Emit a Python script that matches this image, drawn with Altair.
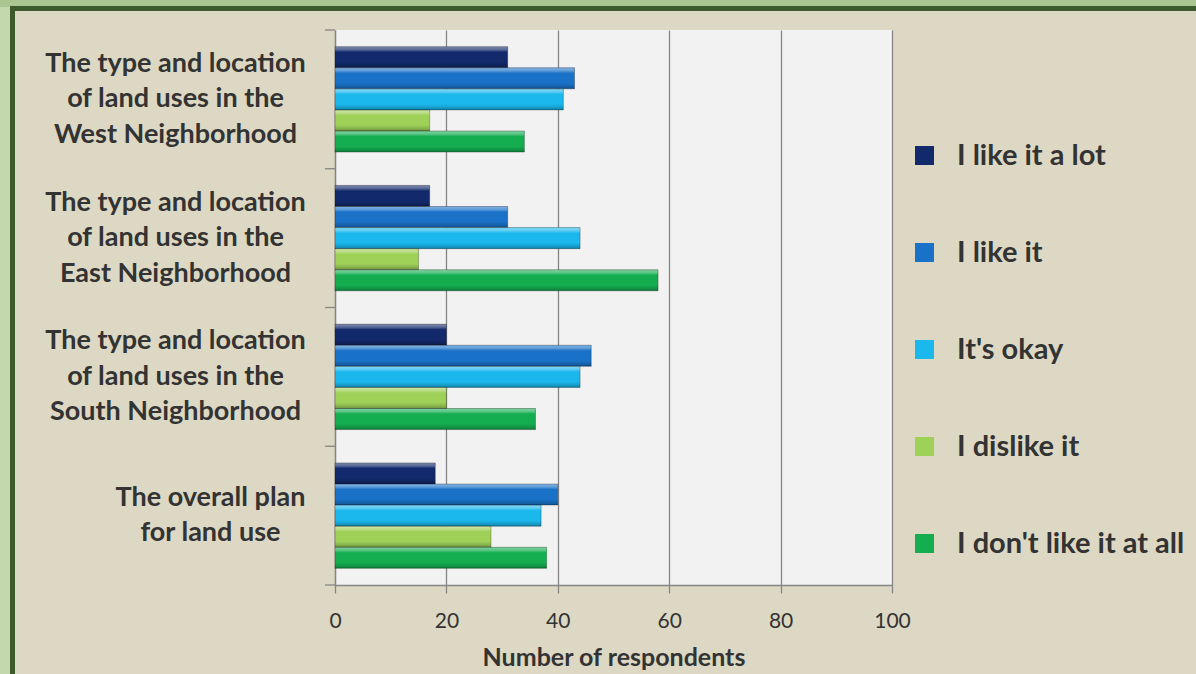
import altair as alt
import pandas as pd

# Survey questions (lines split on "|") and response options
categories = [
    "The type and location|of land uses in the|West Neighborhood",
    "The type and location|of land uses in the|East Neighborhood",
    "The type and location|of land uses in the|South Neighborhood",
    "The overall plan|for land use",
]
series = ["I like it a lot", "I like it", "It's okay", "I dislike it", "I don't like it at all"]

like_a_lot = [31, 17, 20, 18]
like_it = [43, 31, 46, 40]
its_okay = [41, 44, 44, 37]
dislike_it = [17, 15, 20, 28]
dont_like_at_all = [34, 58, 36, 38]

x_ticks = [0, 20, 40, 60, 80, 100]
colors = ["#12296b", "#1a72c8", "#1bb8ee", "#9fd058", "#14ae50"]

values_by_series = [like_a_lot, like_it, its_okay, dislike_it, dont_like_at_all]
rows = []
for s, vals in zip(series, values_by_series):
    for c, v in zip(categories, vals):
        rows.append({"category": c, "series": s, "value": v})
df = pd.DataFrame(rows)
cat_df = pd.DataFrame({"category": categories})
frame_df = pd.DataFrame({"k": [0]})

FONT = "Lato"
TEXT = "#333333"
GRAY = "#858585"

PLOT_W, PLOT_H = 557, 555
PAD_INNER, PAD_OUTER = 0.24, 0.12
step = PLOT_H / (len(categories) - PAD_INNER + 2 * PAD_OUTER)
half_gap = PAD_OUTER * step  # distance from a group's edge to the separator

LINE_H = 35.5
two_line = f"datum.value === '{categories[3]}'"

y_scale = alt.Scale(paddingInner=PAD_INNER, paddingOuter=PAD_OUTER)

y_enc = alt.Y(
    "category:N",
    sort=categories,
    scale=y_scale,
    axis=alt.Axis(
        title=None,
        ticks=False,
        tickSize=0,
        domain=True,
        domainColor=GRAY,
        domainWidth=1.3,
        labelExpr="split(datum.label, '|')",
        labelAlign="center",
        labelBaseline="middle",
        labelLineHeight=LINE_H,
        labelFont=FONT,
        labelFontSize=27,
        labelFontWeight="bold",
        labelColor=TEXT,
        labelLimit=400,
        # centre each multi-line block on its group
        labelOffset={
            "condition": {"test": two_line, "value": -LINE_H / 2},
            "value": -LINE_H,
        },
        labelPadding={
            "condition": {"test": two_line, "value": 125},
            "value": 160,
        },
    ),
)

x_enc = alt.X(
    "value:Q",
    scale=alt.Scale(domain=[0, 100], nice=False),
    axis=alt.Axis(
        values=x_ticks,
        title="Number of respondents",
        grid=True,
        gridColor=GRAY,
        gridWidth=1.3,
        domainColor=GRAY,
        domainWidth=1.3,
        tickColor=GRAY,
        tickWidth=1.3,
        tickSize=8,
        labelFlush=False,
        labelFont=FONT,
        labelFontSize=21,
        labelColor=TEXT,
        labelPadding=17,
        titleFont=FONT,
        titleFontSize=25,
        titleFontWeight="bold",
        titleColor=TEXT,
        titlePadding=14,
    ),
)

y_off = alt.YOffset("series:N", sort=series, scale=alt.Scale(domain=series, paddingInner=0, paddingOuter=0))

bars = alt.Chart(df).mark_bar().encode(
    x=x_enc,
    y=y_enc,
    yOffset=y_off,
    color=alt.Color(
        "series:N",
        sort=series,
        scale=alt.Scale(domain=series, range=colors),
        legend=alt.Legend(
            title=None,
            orient="none",
            legendX=575,
            legendY=111,
            padding=0,
            symbolType="square",
            symbolSize=361,
            symbolStrokeWidth=0,
            labelFont=FONT,
            labelFontSize=29,
            labelFontWeight="bold",
            labelColor=TEXT,
            labelOffset=18,
            labelLimit=400,
            rowPadding=67,
        ),
    ),
)

# Bevelled sheen on top of each bar
sheen = alt.Chart(df).mark_bar(
    fill=alt.LinearGradient(
        gradient="linear",
        x1=0, x2=0, y1=0, y2=1,
        stops=[
            alt.GradientStop(color="rgba(255,255,255,0.45)", offset=0),
            alt.GradientStop(color="rgba(255,255,255,0.30)", offset=0.14),
            alt.GradientStop(color="rgba(255,255,255,0.0)", offset=0.26),
            alt.GradientStop(color="rgba(0,0,0,0.0)", offset=0.72),
            alt.GradientStop(color="rgba(0,0,0,0.12)", offset=0.86),
            alt.GradientStop(color="rgba(0,0,0,0.30)", offset=1),
        ],
    ),
    stroke="rgba(0,0,0,0.35)",
    strokeWidth=0.8,
).encode(x="value:Q", y=alt.Y("category:N", sort=categories), yOffset=alt.YOffset("series:N", sort=series))

# Category separators on the left axis
sep_top = alt.Chart(cat_df).mark_rule(color=GRAY, strokeWidth=1.3, yOffset=-half_gap).encode(
    y=alt.Y("category:N", sort=categories, bandPosition=0),
    x=alt.value(-10),
    x2=alt.value(0),
)
sep_bottom = alt.Chart(cat_df).transform_filter(
    alt.datum.category == categories[-1]
).mark_rule(color=GRAY, strokeWidth=1.3, yOffset=half_gap).encode(
    y=alt.Y("category:N", sort=categories, bandPosition=1),
    x=alt.value(-10),
    x2=alt.value(0),
)

# Green page edge and dark frame
left_strip = alt.Chart(frame_df).mark_rect(color="#c4d8ac").encode(
    x=alt.value(-335), x2=alt.value(-324), y=alt.value(-30), y2=alt.value(700)
)
top_strip = alt.Chart(frame_df).mark_rect(color="#aac591").encode(
    x=alt.value(-335), x2=alt.value(900), y=alt.value(-30), y2=alt.value(-23)
)
border = alt.Chart(frame_df).mark_rect(fill="transparent", stroke="#3c5a2b", strokeWidth=5).encode(
    x=alt.value(-322.5), x2=alt.value(1000), y=alt.value(-21.5), y2=alt.value(1000)
)

chart = alt.layer(
    left_strip, top_strip, border, bars, sheen, sep_top, sep_bottom
).properties(
    width=PLOT_W,
    height=PLOT_H,
    autosize=alt.AutoSizeParams(type="none"),
    padding={"left": 335, "top": 30, "right": 304, "bottom": 89},
    background="#ddd8c3",
).configure_view(
    fill="#f2f2f2",
    stroke=None,
)

chart.save("out.html", embed_options={"renderer": "svg", "actions": False})
